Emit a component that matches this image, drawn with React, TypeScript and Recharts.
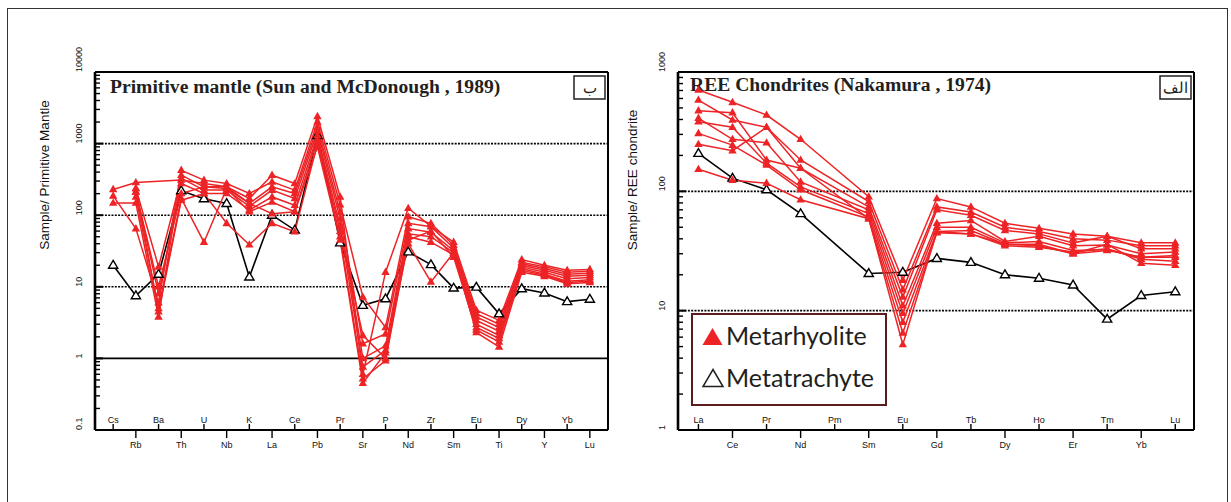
import React from "react";
import { LineChart, Line, XAxis, YAxis, ReferenceLine } from "recharts";

// Primitive mantle normalised spider diagram (Sun & McDonough 1989)
const pmElements = ["Cs", "Rb", "Ba", "Th", "U", "Nb", "K", "La", "Ce", "Pb", "Pr", "Sr", "P", "Nd", "Zr", "Sm", "Eu", "Ti", "Dy", "Y", "Yb", "Lu"];

const pmRhy1 = [229, 286, null, 310, 277, 249, 171, 362, 277, 2400, 180, 0.6, 16, 125, 70, 42, 4.7, 3.4, 24, 20, 17, 17.5];
const pmRhy2 = [186, 65, 6, 425, 309, 277, 201, 292, 224, 2000, 140, 7.2, 2.7, 95, 77, 38, 4.2, 3.0, 22, 19, 16, 16.5];
const pmRhy3 = [148, 148, 3.8, 362, 249, 236, 146, 249, 201, 1700, 110, 1.6, 2.2, 77, 69, 35, 3.8, 2.7, 21, 18, 15, 15.5];
const pmRhy4 = [null, 236, 19, 326, 224, 224, 133, 224, 171, 1500, 90, 1.0, 1.5, 65, 58, 32, 3.4, 2.4, 20, 17, 14, 14.5];
const pmRhy5 = [null, 212, 8, 277, 201, 201, 118, 180, 138, 1300, 70, 0.76, 1.3, 55, 50, 30, 3.0, 2.1, 19, 16, 13, 13.5];
const pmRhy6 = [null, 180, 5, 171, 42, 236, 112, 153, 112, 1150, 60, 2.1, 1.0, 50, 42, 28, 2.7, 1.9, 18, 15, 12, 12.5];
const pmRhy7 = [null, 236, 4.5, 162, 201, 77, 38.6, 77, 58.6, 1000, 50, 0.52, 0.93, 45, 60, 26, 2.5, 1.7, 17, 14.5, 11.5, 12];
const pmRhy8 = [null, 212, 10, 201, 249, 249, 146, 105, 112, 900, 45, 0.45, 1.2, 40, 11.7, 30, 2.3, 1.45, 16, 14, 11, 11.5];
const pmTrachyte = [20, 7.5, 15, 220, 170, 146, 13.7, 100, 62, 1300, 41, 5.5, 6.8, 30.7, 20.4, 9.6, 9.9, 4.2, 9.4, 8.2, 6.2, 6.7];

const pmMajorTicks = [0.1, 1, 10, 100, 1000, 10000];

// REE chondrite normalised (Nakamura 1974)
const reeElements = ["La", "Ce", "Pr", "Nd", "Pm", "Sm", "Eu", "Gd", "Tb", "Dy", "Ho", "Er", "Tm", "Yb", "Lu"];

const reeRhy1 = [706, 557, 436, 273, null, 90, 18, 87, 74, 54, 49, 44, 42, 37, 37];
const reeRhy2 = [582, 396, 344, 183, null, 82, 15, 74, 67, 50, 46, 40, 39, 35, 35];
const reeRhy3 = [474, 456, 183, 156, null, 74, 13, 70, 63, 47, 44, 37, 42, 33, 33];
const reeRhy4 = [410, 273, 255, 120, null, 70, 11, 54, 57, 38, 42, 35, 35.5, 30, 31];
const reeRhy5 = [383, 344, 172, 109, null, 65, 9.5, 50, 50, 37, 38, 32, 32.5, 28, 28];
const reeRhy6 = [306, 244, 166, 103, null, 61, 8, 46, 44, 36, 36, 30, 36, 25, 24];
const reeRhy7 = [248, 219, 344, 156, null, 59, 6.5, 45, 44, 35, 34, 31, 33, 27, 26];
const reeRhy8 = [153, 124, 117, 85, null, 59, 5.2, 46, 47, 36, 35, 30, 32, 28, 29];
const reeTrachyte = [208, 129, 103, 65, null, 20.5, 21, 27.4, 25.4, 20, 18.7, 16.4, 8.5, 13.4, 14.4];

const reeMajorTicks = [1, 10, 100, 1000];

const legendNames = ["Metarhyolite", "Metatrachyte"];

const RED = "#ed2326";
const INK = "#231f20";

function withMinors(majors: number[]) {
  const out: number[] = [];
  majors.forEach((m, i) => {
    out.push(m);
    if (i < majors.length - 1) for (let k = 2; k <= 9; k++) out.push(+(m * k).toPrecision(6));
  });
  return out;
}

function buildRows(elements: string[], reds: (number | null)[][], black: (number | null)[]) {
  return elements.map((el, i) => {
    const row: any = { x: i, el, b: black[i] };
    reds.forEach((s, k) => (row["r" + k] = s[i]));
    return row;
  });
}

const pmReds = [pmRhy1, pmRhy2, pmRhy3, pmRhy4, pmRhy5, pmRhy6, pmRhy7, pmRhy8];
const reeReds = [reeRhy1, reeRhy2, reeRhy3, reeRhy4, reeRhy5, reeRhy6, reeRhy7, reeRhy8];
const pmRows = buildRows(pmElements, pmReds, pmTrachyte);
const reeRows = buildRows(reeElements, reeReds, reeTrachyte);

const RedTri = (p: any) => {
  const { cx, cy, value } = p;
  if (cx == null || cy == null || value == null) return <g key={p.key} />;
  return <path key={p.key} d={`M${cx},${cy - 4.6}L${cx + 4.2},${cy + 2.8}L${cx - 4.2},${cy + 2.8}Z`} fill={RED} />;
};

const OpenTri = (p: any) => {
  const { cx, cy, value } = p;
  if (cx == null || cy == null || value == null) return <g key={p.key} />;
  return (
    <path key={p.key} d={`M${cx},${cy - 4.8}L${cx + 4.6},${cy + 3}L${cx - 4.6},${cy + 3}Z`} fill="#fff" stroke="#000" strokeWidth={1.4} />
  );
};

const YTick = (p: any) => {
  const { x, y, payload } = p;
  const v = payload.value;
  const l = Math.log10(v);
  const major = Math.abs(l - Math.round(l)) < 1e-6;
  return (
    <g>
      <line x1={x} x2={x + (major ? 8 : 5)} y1={y} y2={y} stroke="#000" strokeWidth={major ? 2 : 1.4} />
      {major && (
        <text transform={`translate(${x - 13},${y}) rotate(-90)`} fontSize={9} fontFamily="Arial, Liberation Sans" fill="#111">
          {String(v)}
        </text>
      )}
    </g>
  );
};

const makeXTick = (names: string[]) => (p: any) => {
  const { x, y, payload } = p;
  const i = payload.value;
  const inside = i % 2 === 0;
  return (
    <g>
      <line x1={x} x2={x} y1={y} y2={inside ? y - 6 : y + 8} stroke="#000" strokeWidth={1.4} />
      <text x={x} y={inside ? y - 7 : y + 18} textAnchor="middle" fontSize={9} fontFamily="Arial, Liberation Sans" fill="#111">
        {names[i]}
      </text>
    </g>
  );
};

const dotted = { stroke: "#000", strokeWidth: 1.6, strokeDasharray: "2 1.3" };
const titleFont = "Liberation Serif, Times New Roman, serif";

export default function App() {
  return (
    <div style={{ position: "absolute", left: 0, top: 0, width: 1231, height: 502, background: "#fff", overflow: "hidden" }}>
      <div style={{ position: "absolute", left: 7, top: 8, width: 1219, height: 520, border: "1.5px solid #333" }} />

      <div style={{ position: "absolute", left: 0, top: 0 }}>
        <LineChart width={620} height={502} data={pmRows} margin={{ top: 72, right: 12, bottom: 71, left: 94 }}>
          <XAxis
            dataKey="x"
            type="number"
            domain={[-0.8, 21.8]}
            ticks={pmElements.map((_, i) => i)}
            interval={0}
            height={1}
            tickSize={0}
            tickMargin={0}
            tick={makeXTick(pmElements)}
            axisLine={{ stroke: "#000", strokeWidth: 2 }}
          />
          <YAxis
            type="number"
            scale="log"
            domain={[0.1, 10000]}
            allowDataOverflow
            ticks={withMinors(pmMajorTicks)}
            interval={0}
            width={1}
            tickSize={0}
            tickMargin={0}
            tick={YTick}
            axisLine={{ stroke: "#000", strokeWidth: 2.6 }}
          />
          <ReferenceLine y={10000} stroke="#000" strokeWidth={2.2} />
          <ReferenceLine x={21.8} stroke="#000" strokeWidth={2} />
          <ReferenceLine y={1000} {...dotted} />
          <ReferenceLine y={100} {...dotted} />
          <ReferenceLine y={10} {...dotted} />
          <ReferenceLine y={1} stroke="#000" strokeWidth={1.8} />
          <Line dataKey="b" stroke="#000" strokeWidth={1.6} dot={OpenTri} connectNulls isAnimationActive={false} />
          {pmReds.map((_, k) => (
            <Line key={k} dataKey={"r" + k} stroke={RED} strokeWidth={1.5} dot={RedTri} connectNulls isAnimationActive={false} />
          ))}
          <text x={110} y={93} fontFamily={titleFont} fontWeight="bold" fontSize={19.6} fill={INK}>
            Primitive mantle (Sun and McDonough , 1989)
          </text>
          <rect x={574} y={76} width={31} height={23} fill="#fff" stroke={INK} strokeWidth={1.5} />
          <text x={589.5} y={93} textAnchor="middle" fontFamily={titleFont} fontSize={15} fill={INK}>
            ب
          </text>
          <text transform="translate(49,175) rotate(-90)" textAnchor="middle" fontFamily="Arial, Liberation Sans" fontSize={13.5} fill="#111">
            Sample/ Primitive Mantle
          </text>
        </LineChart>
      </div>

      <div style={{ position: "absolute", left: 620, top: 0 }}>
        <LineChart width={611} height={502} data={reeRows} margin={{ top: 72, right: 37, bottom: 71, left: 57 }}>
          <XAxis
            dataKey="x"
            type="number"
            domain={[-0.6, 14.55]}
            ticks={reeElements.map((_, i) => i)}
            interval={0}
            height={1}
            tickSize={0}
            tickMargin={0}
            tick={makeXTick(reeElements)}
            axisLine={{ stroke: "#000", strokeWidth: 2 }}
          />
          <YAxis
            type="number"
            scale="log"
            domain={[1, 1000]}
            allowDataOverflow
            ticks={withMinors(reeMajorTicks)}
            interval={0}
            width={1}
            tickSize={0}
            tickMargin={0}
            tick={YTick}
            axisLine={{ stroke: "#000", strokeWidth: 2.6 }}
          />
          <ReferenceLine y={1000} stroke="#000" strokeWidth={2.2} />
          <ReferenceLine x={14.55} stroke="#000" strokeWidth={2} />
          <ReferenceLine y={100} {...dotted} />
          <ReferenceLine y={10} {...dotted} />
          <Line dataKey="b" stroke="#000" strokeWidth={1.6} dot={OpenTri} connectNulls isAnimationActive={false} />
          {reeReds.map((_, k) => (
            <Line key={k} dataKey={"r" + k} stroke={RED} strokeWidth={1.5} dot={RedTri} connectNulls isAnimationActive={false} />
          ))}
          <text x={70} y={91} fontFamily={titleFont} fontWeight="bold" fontSize={19.6} fill={INK}>
            REE Chondrites (Nakamura , 1974)
          </text>
          <rect x={540} y={76} width={31} height={23} fill="#fff" stroke={INK} strokeWidth={1.5} />
          <text x={555.5} y={93} textAnchor="middle" fontFamily={titleFont} fontSize={15} fill={INK}>
            الف
          </text>
          <text transform="translate(17,180) rotate(-90)" textAnchor="middle" fontFamily="Arial, Liberation Sans" fontSize={13.5} fill="#111">
            Sample/ REE chondrite
          </text>
          <g>
            <rect x={72} y={314} width={194} height={91} fill="#fff" stroke="#5a1c1c" strokeWidth={2} />
            <path d="M92.5,328L102.5,345L82.5,345Z" fill={RED} />
            <text x={106} y={345} fontFamily="Lato, Open Sans, sans-serif" fontSize={25} fill={INK}>
              {legendNames[0]}
            </text>
            <path d="M93,369.5L103,386.5L83,386.5Z" fill="#fff" stroke={INK} strokeWidth={1.5} />
            <text x={106} y={387} fontFamily="Lato, Open Sans, sans-serif" fontSize={25} fill={INK}>
              {legendNames[1]}
            </text>
          </g>
        </LineChart>
      </div>
    </div>
  );
}
